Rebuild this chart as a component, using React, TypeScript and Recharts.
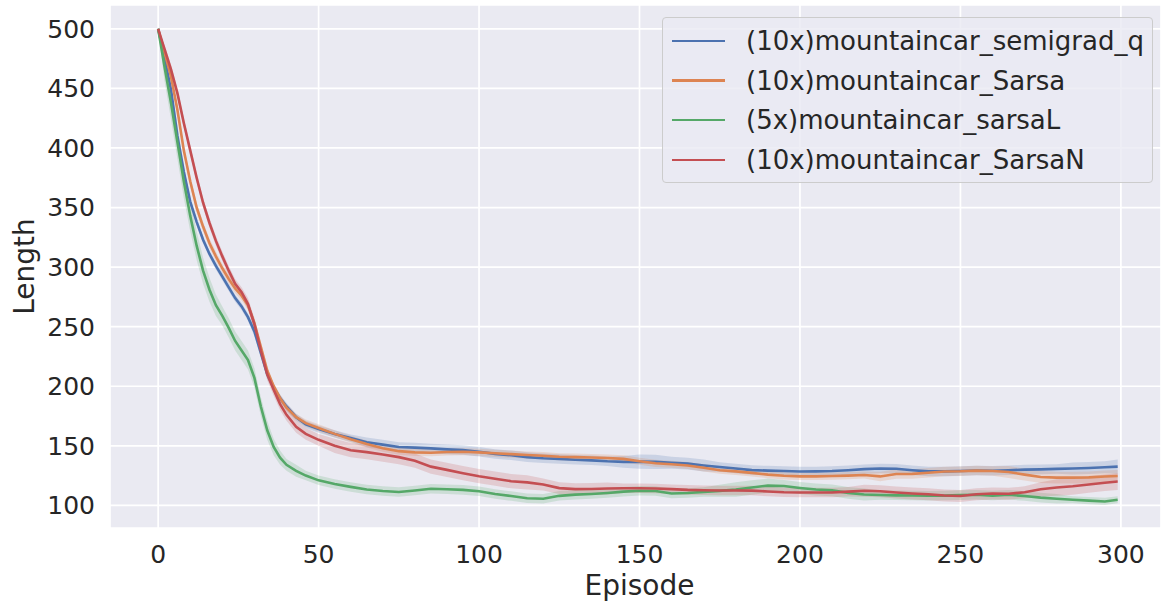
import React from 'react'
import { ComposedChart, Area, Line, XAxis, YAxis, CartesianGrid } from 'recharts'

const episodes = [
  0, 2, 4, 6, 8, 10, 12, 14, 16, 18,
  20, 22, 24, 26, 28, 30, 32, 34, 36, 38,
  40, 43, 46, 50, 55, 60, 65, 70, 75, 80,
  85, 90, 95, 100, 105, 110, 115, 120, 125, 130,
  135, 140, 145, 150, 155, 160, 165, 170, 175, 180,
  185, 190, 195, 200, 205, 210, 215, 220, 225, 230,
  235, 240, 245, 250, 255, 260, 265, 270, 275, 280,
  285, 290, 295, 299
]

const semigradQ = [
  500, 475, 449, 410, 380, 355, 338, 323, 311, 301,
  292, 283, 274, 267, 258, 246, 228, 210, 199, 190,
  183, 174, 168, 164, 160, 156.5, 153, 151, 149, 148.5,
  147.8, 147, 146.4, 145, 143.2, 142, 140.5, 139.5, 139, 138.3,
  137.8, 137, 136.5, 136.7, 136.5, 135.8, 135, 133.5, 132.2, 131,
  129.6, 129.2, 128.8, 128.4, 128.5, 128.8, 129.5, 130.4, 131, 130.7,
  129.5, 128.5, 128.5, 128.8, 129.3, 129, 129.5, 130, 130.2, 130.6,
  131, 131.4, 132, 132.5
]

const sarsa = [
  500, 480, 460, 432, 398, 372, 350, 334, 320, 309,
  299, 290, 282, 276, 268, 253, 233, 213, 200, 190,
  182, 174, 169, 165, 160, 155.5, 151.5, 148, 145.5, 144.5,
  144.2, 144.8, 145, 144.5, 143.7, 143, 142.3, 141.7, 140.8, 140.5,
  140.2, 139.8, 139, 137, 135.3, 134.5, 133.5, 131.5, 129.5, 128.5,
  127.3, 125.8, 124.8, 124.3, 124.3, 124.6, 125, 125.5, 124.3, 126.3,
  126.4, 127.4, 128.4, 128.6, 129.2, 128.8, 128, 125.8, 123.8, 123.3,
  123.3, 123.5, 124.2, 124.7
]

const sarsaL = [
  500, 468, 438, 405, 372, 343, 318, 297, 281, 268,
  259, 249, 238, 230, 222, 207, 183, 163, 149, 140,
  134, 129, 125, 121, 118, 115.5, 113.3, 112, 111.2, 112.5,
  113.9, 113.5, 113, 111.8, 109.6, 107.8, 106, 105.6, 108, 109,
  109.6, 110.4, 111.5, 112.3, 112, 110, 110.4, 111.3, 112.2, 113.3,
  115, 116.6, 116.2, 114.6, 113.3, 112.6, 110.5, 109.1, 108.7, 108.4,
  108.3, 108.1, 108.2, 108.6, 108.9, 108.2, 108.9, 107.8, 106.5, 105.5,
  104.7, 104, 103.3, 104.7
]

const sarsaN = [
  500, 483, 466, 446, 421, 398, 375, 354, 337, 322,
  309, 297, 286, 279, 269, 252, 230, 210, 197, 185,
  176, 166, 160, 155, 150, 146.3, 144.7, 142.7, 140.5, 137.5,
  132.5, 129.8, 127, 124.5, 122.4, 120.3, 119.3, 117.5, 114.5, 113.6,
  113.7, 114.2, 114.4, 114.4, 114.2, 113.6, 113, 112.7, 112.5, 112.5,
  112.4, 111.7, 111, 110.8, 110.8, 110.8, 111.5, 112.3, 111.8, 110.8,
  110, 109.3, 108.3, 107.8, 109.3, 110, 109.7, 111, 113.5, 115,
  116, 117.5, 119, 120
]

// half width of the shaded confidence band
const semigradQCI = [
  0, 2, 3, 3, 3, 3, 3, 3, 3, 3,
  3, 3, 3, 3, 3, 4, 4, 4, 3, 3,
  3, 3, 3, 3, 3, 3, 4, 4, 4, 4,
  4, 4, 4, 4, 4, 4, 4, 4, 4, 4,
  4, 4, 5, 6, 6, 5, 5, 5, 4, 4,
  4, 4, 4, 4, 4, 4, 4, 4, 4, 4,
  4, 4, 4, 4, 4, 4, 4, 4, 4, 4,
  5, 5, 5, 6
]

const sarsaCI = [
  0, 3, 4, 4, 4, 4, 4, 4, 4, 4,
  4, 4, 4, 4, 4, 4, 4, 4, 3, 3,
  3, 3, 3, 3, 3, 3, 3, 3, 3, 3,
  3, 3, 3, 3, 3, 3, 3, 3, 3, 3,
  3, 3, 3, 3, 3, 3, 3, 3, 3, 3,
  3, 3, 3, 3, 3, 3, 3, 3, 4, 4,
  4, 4, 4, 4, 4, 4, 5, 5, 5, 5,
  5, 5, 5, 5
]

const sarsaLCI = [
  0, 12, 14, 14, 14, 13, 12, 11, 10, 9,
  8, 8, 8, 8, 8, 8, 8, 8, 7, 6,
  5, 5, 4, 4, 4, 4, 4, 4, 4, 4,
  4, 4, 4, 4, 4, 4, 4, 4, 4, 4,
  4, 4, 4, 4, 4, 4, 4, 4, 5, 6,
  6, 6, 5, 5, 5, 5, 5, 5, 4, 4,
  4, 4, 4, 4, 4, 4, 4, 4, 4, 4,
  3, 3, 3, 3
]

const sarsaNCI = [
  0, 3, 4, 4, 4, 4, 4, 4, 4, 4,
  4, 4, 4, 4, 5, 5, 5, 5, 5, 5,
  5, 5, 5, 5, 6, 6, 6, 6, 6, 6,
  6, 6, 6, 6, 6, 6, 6, 5, 5, 5,
  5, 5, 4, 4, 4, 4, 4, 4, 4, 4,
  4, 4, 4, 4, 4, 4, 4, 5, 5, 5,
  5, 5, 5, 5, 5, 5, 5, 5, 6, 7,
  7, 7, 7, 7
]

const xTicks = [0, 50, 100, 150, 200, 250, 300]
const yTicks = [100, 150, 200, 250, 300, 350, 400, 450, 500]

const series = [
  { key: 'semigradQ', name: '(10x)mountaincar_semigrad_q', color: '#4C72B0', values: semigradQ, ci: semigradQCI },
  { key: 'sarsa', name: '(10x)mountaincar_Sarsa', color: '#DD8452', values: sarsa, ci: sarsaCI },
  { key: 'sarsaL', name: '(5x)mountaincar_sarsaL', color: '#55A868', values: sarsaL, ci: sarsaLCI },
  { key: 'sarsaN', name: '(10x)mountaincar_SarsaN', color: '#C44E52', values: sarsaN, ci: sarsaNCI }
]

const data = episodes.map((ep, i) => {
  const row: any = { ep }
  series.forEach(s => {
    row[s.key] = s.values[i]
    row[s.key + 'Band'] = [s.values[i] - s.ci[i], s.values[i] + s.ci[i]]
  })
  return row
})

const FONT = 'DejaVu Sans'
const TEXT = '#262626'

const XLabel = ({ viewBox }: any) => (
  <text
    x={viewBox.x + viewBox.width / 2 + 4}
    y={viewBox.y + 67}
    textAnchor='middle'
    fontFamily={FONT}
    fontSize={28}
    fill={TEXT}
  >
    Episode
  </text>
)

const YLabel = ({ viewBox }: any) => {
  const cx = viewBox.x + 34
  const cy = viewBox.y + viewBox.height / 2
  return (
    <text
      x={cx}
      y={cy}
      transform={`rotate(-90 ${cx} ${cy})`}
      textAnchor='middle'
      fontFamily={FONT}
      fontSize={28}
      fill={TEXT}
    >
      Length
    </text>
  )
}

export default function App() {
  return (
    <div style={{ position: 'absolute', left: 0, top: 0, width: 1161, height: 603, background: '#fff' }}>
      <ComposedChart width={1161} height={603} data={data} margin={{ top: 5, right: 0, left: 0, bottom: 0 }}>
        <CartesianGrid fill='#EAEAF2' fillOpacity={1} stroke='#ffffff' strokeWidth={1.7} />
        <XAxis
          type='number'
          dataKey='ep'
          domain={[-15, 312.5]}
          ticks={xTicks}
          allowDataOverflow
          axisLine={false}
          tickLine={false}
          tickSize={0}
          tickMargin={17}
          height={75}
          tick={{ fill: TEXT, fontSize: 25, fontFamily: FONT }}
          label={<XLabel />}
        />
        <YAxis
          type='number'
          domain={[81, 520]}
          ticks={yTicks}
          allowDataOverflow
          axisLine={false}
          tickLine={false}
          tickSize={0}
          tickMargin={15}
          width={110}
          tick={{ fill: TEXT, fontSize: 25, fontFamily: FONT }}
          label={<YLabel />}
        />
        {series.map(s => (
          <Area
            key={s.key + 'Band'}
            type='linear'
            dataKey={s.key + 'Band'}
            stroke='none'
            fill={s.color}
            fillOpacity={0.2}
            isAnimationActive={false}
            activeDot={false}
          />
        ))}
        {series.map(s => (
          <Line
            key={s.key}
            type='linear'
            dataKey={s.key}
            name={s.name}
            stroke={s.color}
            strokeWidth={2.6}
            dot={false}
            activeDot={false}
            isAnimationActive={false}
          />
        ))}
      </ComposedChart>
      <div
        style={{
          position: 'absolute',
          left: 662,
          top: 17,
          width: 489,
          height: 164,
          background: 'rgba(234,234,242,0.8)',
          border: '1px solid #CCCCCC',
          borderRadius: 4,
          fontFamily: FONT,
          fontSize: 26,
          color: TEXT
        }}
      >
        {series.map((s, i) => (
          <div
            key={s.key}
            style={{ position: 'absolute', left: 0, top: 3 + i * 39.7, height: 39.7, display: 'flex', alignItems: 'center', whiteSpace: 'nowrap' }}
          >
            <span style={{ display: 'inline-block', marginLeft: 9, width: 53, height: 2.4, background: s.color }} />
            <span style={{ marginLeft: 21 }}>{s.name}</span>
          </div>
        ))}
      </div>
    </div>
  )
}
